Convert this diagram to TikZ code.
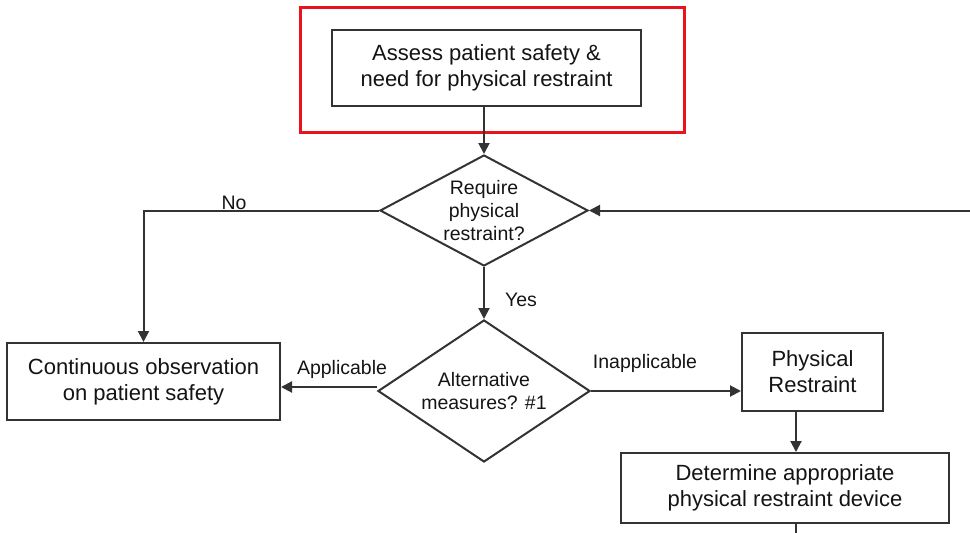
\documentclass[tikz,border=0pt]{standalone}
\usepackage{fontspec}
\setmainfont{Liberation Sans}
\usetikzlibrary{arrows.meta,shapes.geometric}
\definecolor{edge}{HTML}{333333}
\definecolor{ink}{HTML}{141414}
\definecolor{frame}{HTML}{E8141B}
\begin{document}
\begin{tikzpicture}[x=1pt,y=-1pt,
  box/.style={draw=edge, line width=2pt, fill=white, inner sep=0pt, align=center,
    text=ink, font=\fontsize{22}{26}\selectfont},
  dia/.style={diamond, draw=edge, line width=2pt, inner sep=0pt, align=center,
    text=ink, font=\fontsize{19.5}{23}\selectfont},
  lab/.style={inner sep=0pt, text=ink, font=\fontsize{19.5}{23}\selectfont},
  link/.style={draw=edge, line width=2pt},
  flow/.style={link, -{Triangle[length=11pt,width=11pt]}}]
\useasboundingbox (0,0) rectangle (970,533);

% highlighted starting step
\node[draw=frame, line width=3pt, minimum width=384pt, minimum height=125pt] (focus) at (492,69.5) {};
\node[box, minimum width=309pt, minimum height=76pt] (assess) at (486.5,68)
  {Assess patient safety \&\\need for physical restraint};

% decisions
\node[dia, aspect=1.87, minimum width=208pt, minimum height=111pt] (need) at (484,210.5)
  {Require\\physical\\restraint?};
\node[dia, aspect=1.49, minimum width=212pt, minimum height=142pt] (alt) at (484,391)
  {Alternative\\measures? \#1};

% actions
\node[box, minimum width=273pt, minimum height=77pt] (observe) at (143.5,381.5)
  {Continuous observation\\on patient safety};
\node[box, minimum width=141pt, minimum height=78pt] (restrain) at (812.5,372)
  {Physical\\Restraint};
\node[box, minimum width=328pt, minimum height=70pt] (device) at (785,488)
  {Determine appropriate\\physical restraint device};

% free ends and the shared vertical of the right column
\coordinate (inlet) at (970,210.5);
\coordinate (drop) at (796,0);
\coordinate (outlet) at (796,533);

% connectors
\draw[flow] (need.north |- assess.south) -- (need.north);
\draw[flow] (need.east -| inlet) -- (need.east);
\draw[flow] (need.west) -| (observe.north);
\draw[flow] (need.south) -- (alt.north);
\draw[flow] ([yshift=4pt]alt.west) -- ([yshift=4pt]alt.west -| observe.east);
\draw[flow] (alt.east) -- (alt.east -| restrain.west);
\draw[flow] (restrain.south -| drop) -- (device.north -| drop);
\draw[link] (device.south -| drop) -- (outlet);

% branch labels
\node[lab] (no) at (234,203) {No};
\node[lab] (yes) at (521,300) {Yes};
\node[lab] (applicable) at (342,369.5) {Applicable};
\node[lab] (inapplicable) at (645,363) {Inapplicable};
\end{tikzpicture}
\end{document}
